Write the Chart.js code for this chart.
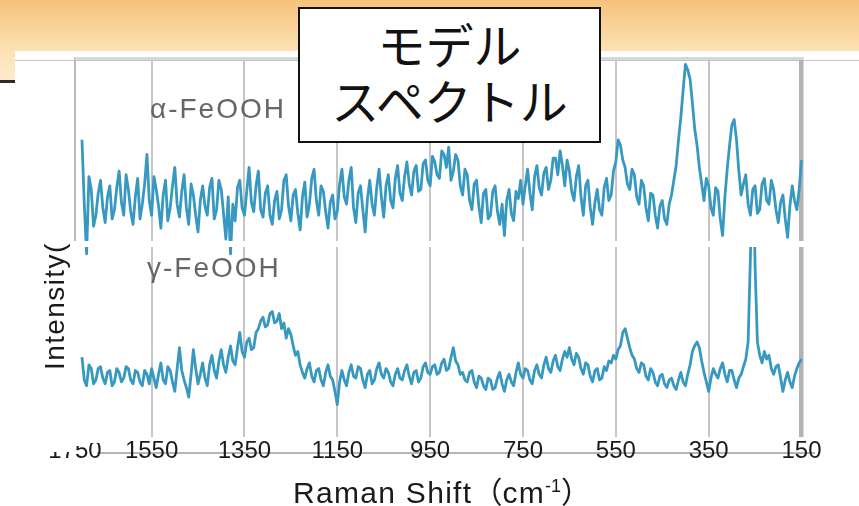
<!DOCTYPE html>
<html lang="ja">
<head>
<meta charset="utf-8">
<title>モデルスペクトル</title>
<script src="https://cdn.jsdelivr.net/npm/chart.js@4.4.1/dist/chart.umd.min.js"></script>
<style>
  html, body { margin: 0; padding: 0; }
  body {
    position: relative;
    width: 859px;
    height: 506px;
    overflow: hidden;
    background: #fff;
    font-family: 'Liberation Sans', Arial, sans-serif;
  }
  .abs { position: absolute; }
  #header {
    left: 0; top: 0; width: 859px; height: 83px;
    background: linear-gradient(to bottom, #f5c27b 0%, #fad7a0 40%, #fde2b6 62%, #feebd0 100%);
  }
  #panel { left: 15px; top: 51px; width: 844px; height: 455px; background: #fff; }
  #darkLine { left: 0; top: 80px; width: 15px; height: 3px; background: #2a2a2a; }
  #slideLine { left: 15px; top: 60px; width: 844px; height: 1px; background: #c4c4c4; }
  #frameTop { left: 75px; top: 57px; width: 729px; height: 3px; background: #d4d9d9; }
  #topChart { left: 0; top: 57px; }
  #gap { left: 15px; top: 241px; width: 844px; height: 6px; background: #fff; }
  #axisLine { left: 97px; top: 452px; width: 718px; height: 2px; background: #b5b5b5; }
  #bottomChart { left: 0; top: 247px; }
  .mask { background: #fff; }
  .species {
    font-size: 28px; line-height: 28px; letter-spacing: 2px;
    color: #666; white-space: nowrap;
  }
  #yTitle {
    left: 41px; top: 370px;
    transform-origin: 0 0; transform: rotate(-90deg);
    font-size: 28px; line-height: 28px; letter-spacing: 1.4px;
    color: #1a1a1a; white-space: nowrap;
  }
  #xTitle {
    left: 293px; top: 475px;
    font-size: 30px; line-height: 30px; letter-spacing: 1.3px;
    color: #1a1a1a; white-space: nowrap;
  }
  #xTitle .cjk { font-family: 'Noto Sans CJK JP', sans-serif; letter-spacing: 0; }
  #xTitle sup { font-size: 18px; vertical-align: 11px; line-height: 0; letter-spacing: 0; }
  #modelBox {
    left: 298px; top: 7px; width: 303px; height: 136px;
    box-sizing: border-box; border: 2px solid #111; background: #fff;
    padding-top: 6px; text-align: center;
    font-family: 'Noto Sans CJK JP', sans-serif; font-size: 48px; line-height: 56px;
    color: #111;
  }
</style>
</head>
<body>
<div id="header" class="abs"></div>
<div id="panel" class="abs"></div>
<div id="darkLine" class="abs"></div>
<div id="slideLine" class="abs"></div>
<canvas id="topChart" class="abs" width="859" height="203"></canvas>
<div id="frameTop" class="abs"></div>
<div id="gap" class="abs"></div>
<div id="axisLine" class="abs"></div>
<canvas id="bottomChart" class="abs" width="859" height="259"></canvas>
<div class="abs mask" style="left:46px; top:436px; width:30px; height:16px;"></div>
<div class="abs mask" style="left:76px; top:436px; width:14px; height:10px;"></div>
<div class="abs mask" style="left:90px; top:436px; width:16px; height:7px;"></div>
<div class="abs species" style="left:150px; top:95px;">α-FeOOH</div>
<div class="abs species" style="left:147px; top:254px;">γ-FeOOH</div>
<div id="yTitle" class="abs">Intensity(</div>
<div id="xTitle" class="abs">Raman Shift<span class="cjk">（</span>cm<sup>-1</sup><span class="cjk">）</span></div>
<div id="modelBox" class="abs">モデル<br>スペクトル</div>

<script>
// Raman shift (cm-1), high to low, one row per 50 cm-1
const wavenumbers = [
    1700, 1695, 1690, 1685, 1680, 1675, 1670, 1665, 1660, 1655,
    1650, 1645, 1640, 1635, 1630, 1625, 1620, 1615, 1610, 1605,
    1600, 1595, 1590, 1585, 1580, 1575, 1570, 1565, 1560, 1555,
    1550, 1545, 1540, 1535, 1530, 1525, 1520, 1515, 1510, 1505,
    1500, 1495, 1490, 1485, 1480, 1475, 1470, 1465, 1460, 1455,
    1450, 1445, 1440, 1435, 1430, 1425, 1420, 1415, 1410, 1405,
    1400, 1395, 1390, 1385, 1380, 1375, 1370, 1365, 1360, 1355,
    1350, 1345, 1340, 1335, 1330, 1325, 1320, 1315, 1310, 1305,
    1300, 1295, 1290, 1285, 1280, 1275, 1270, 1265, 1260, 1255,
    1250, 1245, 1240, 1235, 1230, 1225, 1220, 1215, 1210, 1205,
    1200, 1195, 1190, 1185, 1180, 1175, 1170, 1165, 1160, 1155,
    1150, 1145, 1140, 1135, 1130, 1125, 1120, 1115, 1110, 1105,
    1100, 1095, 1090, 1085, 1080, 1075, 1070, 1065, 1060, 1055,
    1050, 1045, 1040, 1035, 1030, 1025, 1020, 1015, 1010, 1005,
    1000, 995, 990, 985, 980, 975, 970, 965, 960, 955,
    950, 945, 940, 935, 930, 925, 920, 915, 910, 905,
    900, 895, 890, 885, 880, 875, 870, 865, 860, 855,
    850, 845, 840, 835, 830, 825, 820, 815, 810, 805,
    800, 795, 790, 785, 780, 775, 770, 765, 760, 755,
    750, 745, 740, 735, 730, 725, 720, 715, 710, 705,
    700, 695, 690, 685, 680, 675, 670, 665, 660, 655,
    650, 645, 640, 635, 630, 625, 620, 615, 610, 605,
    600, 595, 590, 585, 580, 575, 570, 565, 560, 555,
    550, 545, 540, 535, 530, 525, 520, 515, 510, 505,
    500, 495, 490, 485, 480, 475, 470, 465, 460, 455,
    450, 445, 440, 435, 430, 425, 420, 415, 410, 405,
    400, 395, 390, 385, 380, 375, 370, 365, 360, 355,
    350, 345, 340, 335, 330, 325, 320, 315, 310, 305,
    300, 295, 290, 285, 280, 275, 270, 265, 260, 255,
    250, 245, 240, 235, 230, 225, 220, 215, 210, 205,
    200, 195, 190, 185, 180, 175, 170, 165, 160, 155,
    150
];

// alpha-FeOOH intensity (arb. units)
const alphaFeOOH = [
    55, 20, -7, 35, 28, 8, 14, 26, 33, 18,
    10, 24, 30, 12, 17, 29, 38, 21, 14, 36,
    28, 16, 9, 24, 34, 12, 20, 31, 47, 22,
    14, 35, 28, 19, 7, 25, 33, 11, 18, 30,
    40, 20, 13, 27, 36, 18, 9, 31, 25, 14,
    5, 22, 30, 19, 14, 29, 34, 12, 17, 33,
    28, 15, 1, 24, -7, 20, 11, 29, 33, 18,
    14, 27, 40, 21, 16, 30, 38, 17, 13, 26,
    30, 14, 9, 22, 27, 12, 17, 33, 36, 19,
    11, 25, 28, 15, 6, 24, 32, 13, 20, 34,
    39, 22, 14, 30, 27, 16, 7, 21, 25, 12,
    16, 31, 39, 24, 20, 33, 40, 18, 10, 26,
    30, 17, 5, 23, 33, 20, 14, 29, 39, 24,
    13, 30, 36, 22, 18, 34, 41, 26, 22, 35,
    43, 31, 25, 38, 41, 27, 28, 42, 44, 33,
    30, 46, 43, 36, 34, 49, 47, 40, 51, 33,
    38, 47, 44, 30, 25, 39, 36, 22, 17, 31,
    33, 19, 10, 26, 28, 12, 14, 27, 30, 16,
    9, 20, 3, 22, 28, 15, 11, 27, 23, 33,
    20, 30, 39, 26, 17, 35, 41, 29, 25, 37,
    40, 28, 33, 45, 45, 36, 49, 41, 30, 44,
    38, 27, 22, 35, 41, 24, 14, 30, 33, 18,
    9, 21, 28, 17, 14, 29, 34, 22, 25, 38,
    43, 55, 52, 44, 40, 31, 28, 39, 36, 24,
    20, 33, 30, 18, 11, 26, 25, 14, 7, 19,
    22, 12, 9, 20, 25, 33, 41, 55, 67, 82,
    96, 93, 88, 75, 61, 52, 40, 31, 22, 34,
    30, 18, 14, 29, 27, 12, 3, 24, 39, 52,
    63, 66, 55, 38, 25, 31, 36, 20, 14, 28,
    30, 15, 17, 31, 34, 22, 20, 33, 28, 17,
    10, 21, 25, 12, 2, 19, 30, 22, 17, 28,
    44
];

// gamma-FeOOH intensity (arb. units)
const gammaFeOOH = [
    42, 30, 27, 38, 36, 28, 30, 36, 37, 31,
    28, 34, 35, 27, 29, 36, 34, 29, 31, 37,
    36, 30, 28, 35, 34, 29, 27, 35, 33, 28,
    36, 31, 26, 33, 39, 30, 28, 37, 35, 29,
    24, 36, 47, 35, 30, 26, 21, 33, 46, 36,
    28, 33, 39, 31, 27, 38, 43, 35, 31, 40,
    46, 38, 34, 42, 48, 40, 38, 47, 55, 45,
    42, 50, 52, 46, 47, 55, 57, 61, 63, 58,
    59, 65, 66, 60, 61, 65, 57, 60, 52, 57,
    54, 48, 43, 45, 38, 34, 31, 36, 39, 32,
    29, 35, 36, 30, 27, 34, 38, 32, 30, 24,
    17, 29, 35, 30, 27, 34, 38, 32, 31, 37,
    36, 30, 26, 33, 35, 28, 30, 36, 39, 33,
    31, 36, 34, 29, 27, 33, 36, 31, 30, 35,
    38, 32, 28, 34, 35, 29, 31, 37, 39, 34,
    33, 37, 38, 33, 34, 39, 41, 35, 36, 42,
    47, 40, 38, 33, 34, 30, 29, 34, 35, 29,
    26, 32, 31, 27, 25, 31, 30, 25, 26, 31,
    34, 28, 24, 30, 33, 29, 27, 34, 39, 33,
    31, 36, 35, 30, 28, 35, 38, 33, 31, 38,
    42, 36, 34, 40, 43, 37, 35, 41, 45, 42,
    47, 41, 38, 44, 42, 36, 33, 39, 38, 32,
    29, 35, 36, 30, 31, 37, 35, 40, 39, 43,
    41, 46, 48, 55, 57, 52, 47, 43, 41, 36,
    34, 39, 38, 32, 30, 36, 34, 29, 27, 32,
    33, 28, 26, 30, 31, 27, 25, 30, 34, 29,
    27, 33, 38, 45, 48, 50, 47, 40, 34, 29,
    24, 31, 36, 33, 31, 36, 39, 33, 29, 35,
    35, 30, 26, 31, 33, 37, 41, 50, 95, 160,
    90, 50, 43, 39, 45, 41, 43, 36, 33, 37,
    38, 31, 24, 30, 34, 29, 26, 32, 36, 39,
    41
];

// x axis ticks (the left one sits at the frame edge)
const tickValues = [1715, 1550, 1350, 1150, 950, 750, 550, 350, 150];
const tickLabels = ['1750', '1550', '1350', '1150', '950', '750', '550', '350', '150'];

const lineColor = '#3799c0';

function toPoints(values) {
    return wavenumbers.map((w, i) => ({ x: w, y: values[i] }));
}

// grid line colour / width by tick
function gridColor(hideFirst) {
    return (ctx) => {
        const v = ctx.tick ? ctx.tick.value : null;
        if (v === 150) return '#b3b3b3';
        if (v === tickValues[0]) return hideFirst ? 'rgba(0,0,0,0)' : '#bababa';
        return '#c6c6c6';
    };
}

function gridWidth(ctx) {
    return ctx.tick && ctx.tick.value === 150 ? 4.5 : 2;
}

function xAxis(showLabels) {
    return {
        type: 'linear',
        reverse: true,
        min: 150,
        max: 1715,
        afterBuildTicks: (scale) => {
            scale.ticks = tickValues.map(v => ({ value: v }));
        },
        grid: {
            color: gridColor(showLabels),
            lineWidth: gridWidth,
            drawTicks: false,
        },
        border: { display: false },
        ticks: {
            display: showLabels,
            autoSkip: false,
            maxRotation: 0,
            padding: 0,
            color: '#1a1a1a',
            font: { family: "'Liberation Sans', Arial, sans-serif", size: 24 },
            callback: (value, index) => tickLabels[index],
        },
        afterFit: (scale) => {
            scale.height = showLabels ? 69 : 0;
        }
    };
}

function makeChart(id, values, showLabels, padBottom, clip) {
    const ctx = document.getElementById(id).getContext('2d');
    return new Chart(ctx, {
        type: 'line',
        data: {
            datasets: [{
                data: toPoints(values),
                borderColor: lineColor,
                borderWidth: 2.8,
                borderJoinStyle: 'round',
                pointRadius: 0,
                tension: 0,
                fill: false,
                clip: clip,
            }]
        },
        options: {
            responsive: false,
            animation: false,
            events: [],
            layout: { padding: { left: 75, right: 57.5, top: 0, bottom: padBottom } },
            plugins: {
                legend: { display: false },
                tooltip: { enabled: false },
            },
            scales: {
                x: xAxis(showLabels),
                y: { display: false, min: 0, max: 100 },
            }
        }
    });
}

// upper panel: alpha-FeOOH, low spikes run a little past the frame
makeChart('topChart', alphaFeOOH, false, 19, { left: 2, right: 2, top: 2, bottom: 19 });

// lower panel: gamma-FeOOH with the axis labels
makeChart('bottomChart', gammaFeOOH, true, 0, { left: 2, right: 2, top: 0, bottom: 2 });
</script>
</body>
</html>
